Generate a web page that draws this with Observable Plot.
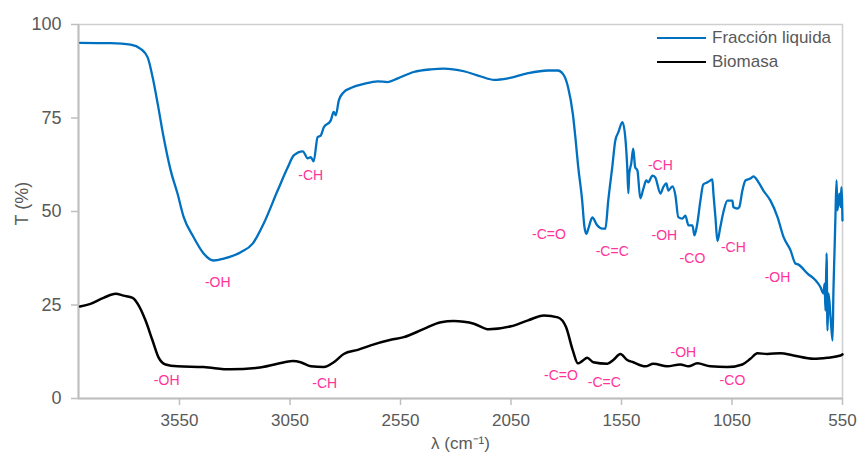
<!DOCTYPE html>
<html>
<head>
<meta charset="utf-8">
<script src="https://cdn.jsdelivr.net/npm/d3@7"></script>
<script src="https://cdn.jsdelivr.net/npm/@observablehq/plot@0.6"></script>
<style>
  html, body { margin: 0; padding: 0; background: #fff; }
  #wrap { position: relative; width: 861px; height: 459px; font-family: "Liberation Sans", Arial, sans-serif; }
  .leg { position: absolute; left: 657px; display: flex; align-items: center; font-size: 17px; color: #595959; white-space: nowrap; }
  .leg span.sw { display: inline-block; width: 49px; height: 2.5px; margin-right: 6px; }
</style>
</head>
<body>
<div id="wrap"></div>
<script>
// Fracción liquida (wavenumber cm-1, T %)
const liquidWn = [4000,3862,3771,3726,3694,3672,3649,3622,3590,3559,3531,3486,3441,3396,3350,3273,3219,3169,3106,3060,3033,2992,2970,2956,2943,2925,2911,2897,2866,2852,2843,2829,2807,2775,2716,2653,2608,2562,2490,2413,2354,2263,2186,2127,2064,1973,1883,1838,1815,1792,1770,1759,1746,1728,1718,1709,1700,1682,1660,1637,1623,1610,1592,1578,1564,1546,1533,1524,1519,1515,1506,1497,1488,1478,1465,1451,1438,1429,1410,1397,1374,1361,1347,1338,1320,1306,1293,1275,1261,1247,1229,1220,1207,1193,1180,1161,1148,1139,1134,1125,1116,1103,1089,1071,1048,1044,1026,1017,1003,989,967,953,930,908,876,844,817,785,763,749,708,672,650,636,631,627,622,618,613,604,595,591,586,582,577,573,564,559,555,550];
const liquidT = [95.1,95.0,94.6,93.5,91.2,86,78.9,69.9,61,54.8,48.5,43.1,38.8,36.9,37.4,39.1,41.4,46.8,55.6,61.8,65.0,66.1,64.2,64.5,63.4,69.9,70.3,72.5,74.3,76.6,75.7,79.7,81.9,83.0,84.1,84.8,84.6,85.6,87.3,88.0,88.2,87.5,86.1,85.2,85.6,87.0,87.7,87.7,86.8,83.3,76,70,62,53,46,44,45.4,48.4,46.3,45.4,45.4,52.9,61.8,69,71.2,73.9,69.9,61.8,54.9,60.1,62.8,66.8,61.8,61,53.5,56.1,58.3,57.8,59.6,59.1,54.8,56.5,57.5,55.6,56.7,54.3,48.5,48.1,48.9,46.3,46.3,43.6,46.8,52.9,57.2,57.8,58.3,58.6,54.8,48.5,42.1,45.8,49.8,52.9,52.9,51.2,50.8,51.2,55.6,58.3,58.8,59.4,57.8,55.6,52.9,48.5,43.2,39.6,36.1,35.8,33.4,31.6,29.8,28.1,30.7,23.5,38.8,18.2,28.1,21.7,15.5,28.9,39.6,48.5,58.3,50.3,54.8,51.2,56.5,47.6];

// Biomasa
const biomassWn = [4000,3953,3894,3839,3803,3762,3735,3704,3672,3645,3613,3559,3441,3319,3196,3106,3038,3002,2956,2897,2852,2807,2743,2685,2594,2535,2444,2367,2309,2263,2218,2150,2050,1973,1901,1838,1801,1770,1747,1728,1705,1678,1614,1587,1555,1524,1497,1442,1406,1343,1284,1247,1207,1148,1071,1003,967,935,890,831,772,681,618,559,550];
const biomassT = [24.6,25.3,26.9,28.0,27.5,26.9,24.9,20.9,15.5,11.0,9.1,8.6,8.4,7.8,8.2,9.3,10.0,9.7,8.6,8.4,9.7,11.9,13.0,14.2,15.7,16.4,18.6,20.4,20.7,20.5,20.0,18.5,19.3,20.9,22.2,21.7,19.1,12.8,9.4,10.0,10.9,9.7,9.3,10.3,11.9,10.3,9.7,8.6,9.3,8.6,9.1,8.6,9.4,8.6,8.4,9.1,10.6,12.1,11.9,12.1,11.5,10.6,10.9,11.5,11.8];

// Band annotations
const annotLabels = ["-OH","-CH","-C=O","-C=C","-CH","-OH","-CO","-CH","-OH","-OH","-CH","-C=O","-C=C","-OH","-CO"];
const annotWn =     [3377, 2956, 1878, 1592, 1374, 1356, 1229, 1044, 844, 3608, 2893, 1824, 1628, 1270, 1048];
const annotT =      [31.0, 59.6, 43.9, 39.3, 62.3, 43.6, 37.4, 40.4, 32.4, 4.8, 4.0, 6.1, 4.3, 12.3, 4.8];

const xTicks = [3550, 3050, 2550, 2050, 1550, 1050, 550];
const yTicks = [0, 25, 50, 75, 100];
const seriesNames = ["Fracción liquida", "Biomasa"];
const seriesColors = ["#0070C0", "#000000"];
const xDomain = [4007, 550];

const liquid = liquidWn.map((w, i) => ({wn: w, t: liquidT[i]}));
const biomass = biomassWn.map((w, i) => ({wn: w, t: biomassT[i]}));
const annots = annotLabels.map((l, i) => ({label: l, wn: annotWn[i], t: annotT[i]}));

const chart = Plot.plot({
  width: 861,
  height: 459,
  marginLeft: 78,
  marginRight: 19,
  marginTop: 24,
  marginBottom: 61,
  style: {fontFamily: "'Liberation Sans', Arial, sans-serif", background: "white", overflow: "visible"},
  x: {domain: xDomain},
  y: {domain: [0, 100]},
  marks: [
    Plot.frame({stroke: "#cfcfcf", strokeWidth: 1.5}),
    Plot.ruleY([0], {stroke: "#bfbfbf", strokeWidth: 2}),
    Plot.ruleX([xDomain[0]], {stroke: "#bfbfbf", strokeWidth: 2}),
    Plot.axisX({ticks: xTicks, tickFormat: d => String(d), tickSize: 7, tickPadding: 8, fontSize: 17, stroke: "#bfbfbf", strokeWidth: 1.5, fill: "#595959", label: null}),
    Plot.axisY({ticks: yTicks, tickFormat: d => String(d), tickSize: 7, tickPadding: 10, fontSize: 18, stroke: "#bfbfbf", strokeWidth: 1.5, fill: "#595959", label: null}),
    Plot.line(biomass, {x: "wn", y: "t", stroke: seriesColors[1], strokeWidth: 2.5, curve: "monotone-x"}),
    Plot.line(liquid, {x: "wn", y: "t", stroke: seriesColors[0], strokeWidth: 2.3, curve: "monotone-x"}),
    Plot.text(annots, {x: "wn", y: "t", text: "label", fill: "#FF3399", fontSize: 14}),
    Plot.text(["λ (cm⁻¹)"], {frameAnchor: "bottom", dy: 50, fontSize: 17, fill: "#595959"}),
    Plot.text(["T (%)"], {frameAnchor: "left", dx: -56, dy: 14, rotate: -90, fontSize: 18, fill: "#595959"})
  ]
});

const wrap = document.getElementById("wrap");
wrap.appendChild(chart);
seriesNames.forEach((name, i) => {
  const d = document.createElement("div");
  d.className = "leg";
  d.style.top = (28 + i * 24) + "px";
  d.innerHTML = `<span class="sw" style="background:${seriesColors[i]}"></span>`;
  d.appendChild(document.createTextNode(name));
  wrap.appendChild(d);
});
</script>
</body>
</html>
